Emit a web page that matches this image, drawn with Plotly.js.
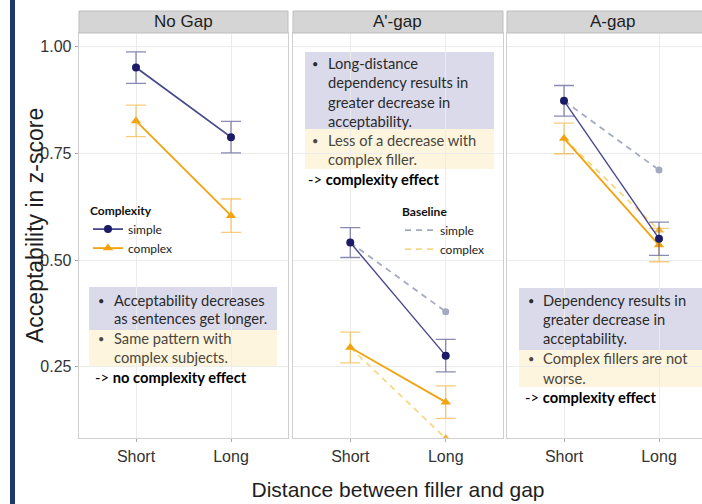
<!DOCTYPE html>
<html><head><meta charset="utf-8">
<script src="https://cdn.plot.ly/plotly-3.0.1.min.js"></script>
<style>html,body{margin:0;padding:0;background:#fff}#chart{width:702px;height:504px}</style>
</head><body><div id="chart"></div>
<script>
// ---- data ----
const distance = ['Short', 'Long'];
const panelNames = ['No Gap', "A'-gap", 'A-gap'];
const simpleNoGap = [0.951, 0.788];
const simpleNoGapSE = [0.037, 0.037];
const complexNoGap = [0.826, 0.604];
const complexNoGapSE = [0.037, 0.039];
const simpleAprimeGap = [0.541, 0.276];
const simpleAprimeGapSE = [0.035, 0.038];
const complexAprimeGap = [0.295, 0.167];
const complexAprimeGapSE = [0.036, 0.038];
const simpleAGap = [0.873, 0.550];
const simpleAGapSE = [0.036, 0.039];
const complexAGap = [0.785, 0.535];
const complexAGapSE = [0.036, 0.039];
// baseline (No Gap decrease applied) at Long, for A'-gap and A-gap
const baselineSimpleLong = [0.379, 0.711];
const baselineComplexLong = [0.082, 0.570];
const yTicks = [0.25, 0.50, 0.75, 1.00];

const noteNoGap = ['Acceptability decreases', 'as sentences get longer.', 'Same pattern with', 'complex subjects.', 'no complexity effect'];
const noteAprime = ['Long-distance', 'dependency results in', 'greater decrease in', 'acceptability.', 'Less of a decrease with', 'complex filler.', 'complexity effect'];
const noteA = ['Dependency results in', 'greater decrease in', 'acceptability.', 'Complex fillers are not', 'worse.', 'complexity effect'];

// ---- styling / layout helpers ----
const W = 702, H = 504;
const px = x => x / W;
const py = y => 1 - y / H;
const NAVY = '#1b1b68', ORANGE = '#f2a30f';
const simpleSeries = [[simpleNoGap, simpleNoGapSE], [simpleAprimeGap, simpleAprimeGapSE], [simpleAGap, simpleAGapSE]];
const complexSeries = [[complexNoGap, complexNoGapSE], [complexAprimeGap, complexAprimeGapSE], [complexAGap, complexAGapSE]];
const axSuffix = ['', '2', '3'];

const traces = [];
// baselines (panels 2,3)
for (let i = 0; i < 2; i++) {
  const p = i + 1, s = axSuffix[p];
  traces.push({x: distance, y: [simpleSeries[p][0][0], baselineSimpleLong[i]], xaxis: 'x' + s, yaxis: 'y' + s,
    mode: 'lines', name: 'simple', legend: 'legend2', showlegend: i === 0,
    line: {color: '#a4aac0', width: 1.8, dash: '6px,5px'}});
  traces.push({x: distance, y: [complexSeries[p][0][0], baselineComplexLong[i]], xaxis: 'x' + s, yaxis: 'y' + s,
    mode: 'lines', name: 'complex', legend: 'legend2', showlegend: i === 0,
    line: {color: '#f8d787', width: 1.8, dash: '6px,5px'}});
  traces.push({x: [distance[1]], y: [baselineSimpleLong[i]], xaxis: 'x' + s, yaxis: 'y' + s,
    mode: 'markers', showlegend: false, marker: {color: '#a4aabd', size: 7, symbol: 'circle'}});
  traces.push({x: [distance[1]], y: [baselineComplexLong[i]], xaxis: 'x' + s, yaxis: 'y' + s,
    mode: 'markers', showlegend: false, marker: {color: '#f6b640', size: 9, symbol: 'triangle-up'}});
}
for (let p = 0; p < 3; p++) {
  const s = axSuffix[p];
  traces.push({x: distance, y: complexSeries[p][0], xaxis: 'x' + s, yaxis: 'y' + s,
    mode: 'lines+markers', name: 'complex', legend: 'legend', showlegend: p === 0, legendrank: 2,
    error_y: {type: 'data', array: complexSeries[p][1], color: 'rgba(242,163,15,0.55)', thickness: 1.3, width: 10},
    line: {color: ORANGE, width: 1.8}, marker: {color: ORANGE, size: 9, symbol: 'triangle-up'}});
  traces.push({x: distance, y: simpleSeries[p][0], xaxis: 'x' + s, yaxis: 'y' + s,
    mode: 'lines+markers', name: 'simple', legend: 'legend', showlegend: p === 0, legendrank: 1,
    error_y: {type: 'data', array: simpleSeries[p][1], color: 'rgba(60,60,130,0.6)', thickness: 1.3, width: 10},
    line: {color: 'rgba(40,40,120,0.85)', width: p === 0 ? 1.8 : 1.4}, marker: {color: NAVY, size: 8, symbol: 'circle'}});
}

const unit = (288 - 79) / 2.2;
const xBase = {type: 'category', categoryarray: distance, showgrid: true, gridcolor: '#ececec', gridwidth: 1,
  showline: true, mirror: true, linecolor: '#d0d0d0', linewidth: 1.3, ticks: 'outside', ticklen: 3, tickcolor: '#aaa',
  tickfont: {family: 'Arial, Liberation Sans', size: 16, color: '#333'}, zeroline: false, fixedrange: true};
const yBase = {range: [0.083, 1.032], domain: [py(438), py(33)], showgrid: true, gridcolor: '#ececec', gridwidth: 1,
  showline: true, mirror: true, linecolor: '#d0d0d0', linewidth: 1.3, zeroline: false, fixedrange: true};

const shapes = [
  {type: 'rect', xref: 'paper', yref: 'paper', x0: px(10), x1: px(15), y0: 0, y1: 1, fillcolor: '#1f3a68', line: {width: 0}}
];
const stripX = [[79, 288], [293, 503], [507, 718]];
const annotations = [];
stripX.forEach((b, i) => {
  shapes.push({type: 'rect', xref: 'paper', yref: 'paper', x0: px(b[0]), x1: px(b[1]), y0: py(33), y1: py(11),
    fillcolor: '#d5d5d5', line: {color: '#bdbdbd', width: 1}});
  annotations.push({xref: 'paper', yref: 'paper', x: px((b[0] + Math.min(b[1], 717)) / 2), y: py(22),
    text: panelNames[i], showarrow: false, xanchor: 'center', yanchor: 'middle',
    font: {family: 'Arial, Liberation Sans', size: 17, color: '#1e1e1e'}});
});
// y-axis title
annotations.push({xref: 'paper', yref: 'paper', x: px(35), y: py(226), xanchor: 'center', yanchor: 'middle', textangle: -90,
  text: 'Acceptability in z-score', showarrow: false, font: {family: 'Arial, Liberation Sans', size: 23, color: '#1e1e1e'}});

// note boxes
const PURPLE = '#dadaea', CREAM = '#fdf5dd';
function box(x0, x1, y0, y1, c) {
  shapes.push({type: 'rect', xref: 'paper', yref: 'paper', layer: 'below', x0: px(x0), x1: px(x1), y0: py(y1), y1: py(y0), fillcolor: c, line: {width: 0}});
}
box(89, 277, 287, 330, PURPLE); box(89, 277, 330, 367, CREAM);
box(305, 494, 52, 129, PURPLE); box(305, 494, 129, 169, CREAM);
box(519, 702, 288, 350, PURPLE); box(519, 702, 350, 387, CREAM);

function line(x, y, t, opt) {
  annotations.push(Object.assign({xref: 'paper', yref: 'paper', x: px(x), y: py(y), xanchor: 'left', yanchor: 'middle',
    text: t, showarrow: false, font: {family: 'Lato', size: 14.7, color: '#2a2a2a'}}, opt || {}));
}
function note(bx, tx, ys, lines, nPurple, nCream, ax) {
  let k = 0;
  const groups = [nPurple, nCream];
  groups.forEach((n, g) => {
    const col = g ? '#4a4640' : '#2a2a2a';
    line(bx, ys[k], '•', {font: {family: 'Lato', size: 11, color: col}});
    for (let j = 0; j < n; j++, k++) line(tx, ys[k], lines[k], {font: {family: 'Lato', size: 14.7, color: col}});
  });
  line(ax, ys[k], '-> <b>' + lines[k] + '</b>', {font: {family: 'Lato', size: 14.7, color: '#000'}});
}
note(96, 112, [300, 318, 338, 357, 377], noteNoGap, 2, 2, 93);
note(310, 326, [63, 82, 102, 121, 140, 159, 179], noteAprime, 4, 2, 306);
note(526, 541, [300, 319, 338, 358, 378, 397], noteA, 3, 2, 523);

const legendBase = {xanchor: 'left', yanchor: 'top', bgcolor: 'rgba(255,255,255,0)',
  font: {family: 'Lato', size: 12, color: '#222'}, tracegroupgap: 0, itemwidth: 30};
const layout = {
  width: W, height: H, margin: {l: 0, r: 0, t: 0, b: 0}, paper_bgcolor: '#fff', plot_bgcolor: '#fff',
  font: {family: 'Arial, Liberation Sans', color: '#222'},
  xaxis: Object.assign({}, xBase, {domain: [px(79), px(288)], anchor: 'y', range: [-0.6, 1.6]}),
  xaxis2: Object.assign({}, xBase, {domain: [px(293), px(503)], anchor: 'y2', range: [-0.6, 1.6],
    title: {text: 'Distance between filler and gap', font: {family: 'Arial, Liberation Sans', size: 21, color: '#1e1e1e'}, standoff: 18}}),
  xaxis3: Object.assign({}, xBase, {domain: [px(507), 1], anchor: 'y3', range: [-0.6, -0.6 + (W - 507) / unit]}),
  yaxis: Object.assign({}, yBase, {anchor: 'x', tickvals: yTicks, tickformat: '.2f', ticks: 'outside', ticklen: 3, tickcolor: '#aaa',
    tickfont: {family: 'Arial, Liberation Sans', size: 16, color: '#333'}}),
  yaxis2: Object.assign({}, yBase, {anchor: 'x2', matches: 'y', tickvals: yTicks, showticklabels: false, ticks: ''}),
  yaxis3: Object.assign({}, yBase, {anchor: 'x3', matches: 'y', tickvals: yTicks, showticklabels: false, ticks: ''}),
  legend: Object.assign({}, legendBase, {x: px(88), y: py(199),
    title: {text: '<b>Complexity</b>', font: {family: 'Lato', size: 12, color: '#111'}}}),
  legend2: Object.assign({}, legendBase, {x: px(400), y: py(200),
    title: {text: '<b>Baseline</b>', font: {family: 'Lato', size: 12, color: '#111'}}}),
  shapes: shapes, annotations: annotations, showlegend: true
};
Plotly.newPlot('chart', traces, layout, {displayModeBar: false, staticPlot: true});
</script></body></html>
